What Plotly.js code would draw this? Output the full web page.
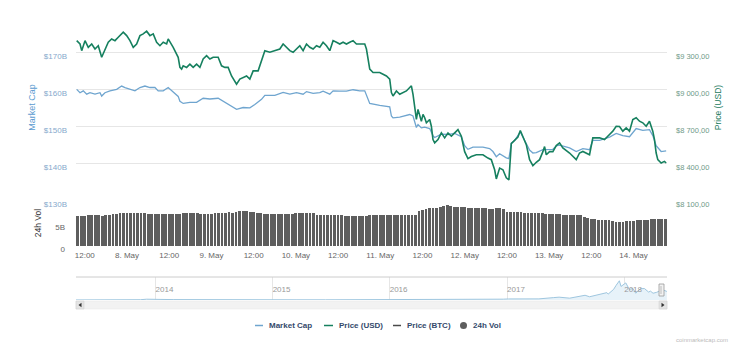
<!DOCTYPE html>
<html><head><meta charset="utf-8">
<script src="https://cdn.plot.ly/plotly-3.0.1.min.js"></script>
<style>html,body{margin:0;padding:0;background:#fff}#chart{width:750px;height:356px}</style>
</head><body><div id="chart"></div>
<script>
// ---- data ----
// hours after 2018-05-07 09:30 UTC
const priceHours = [
0.2,1.14,1.62,2.56,3.49,4.46,5.40,6.33,7.30,8.23,
9.17,10.14,11.08,12.01,13.43,14.40,15.34,16.27,17.24,18.18,
19.11,20.08,21.02,21.95,22.92,23.86,24.79,25.76,26.21,27.63,
28.60,29.05,29.54,30.02,30.47,31.44,32.38,33.31,34.28,35.22,
36.15,37.12,38.06,38.99,40.41,41.38,42.32,43.25,44.22,45.16,
45.64,46.58,47.51,48.48,49.42,50.36,51.77,52.74,53.68,55.10,
56.52,57.94,58.88,59.84,60.78,61.72,62.68,63.62,64.56,65.52,
66.46,67.40,68.36,69.30,70.24,71.20,72.14,73.08,74.04,74.98,
75.92,76.88,77.82,78.76,79.72,80.66,82.08,82.56,83.02,83.50,
84.44,85.40,86.34,87.28,88.24,89.18,89.66,90.12,91.08,92.02,
92.96,93.92,94.86,95.34,95.80,96.28,96.76,97.22,97.70,98.18,
98.64,99.12,99.60,100.54,101.02,101.48,101.96,102.90,103.86,104.80,
105.74,106.70,107.64,108.58,109.54,110.48,111.42,112.38,113.80,115.68,
117.10,118.06,119.00,119.48,120.42,121.36,122.32,123.06,123.74,124.68,
125.62,126.30,127.04,128.00,128.94,129.88,130.84,131.78,132.72,133.20,
133.68,134.62,135.56,136.52,137.46,138.40,140.30,142.20,143.14,144.08,
145.98,146.92,148.82,150.24,151.66,152.60,153.56,154.50,155.44,156.40,
157.34,158.28,159.24,160.18,161.12,162.08,163.02,163.96,164.44,164.92,
165.38,166.34,167.28,167.76];
const priceUsd = [
9392,9365,9311,9392,9338,9365,9324,9351,9257,9324,
9379,9406,9392,9420,9461,9433,9392,9338,9365,9433,
9447,9469,9433,9447,9379,9351,9379,9365,9406,9338,
9284,9257,9175,9161,9188,9175,9202,9175,9202,9175,
9243,9270,9243,9257,9257,9188,9175,9175,9106,9053,
9039,9080,9093,9106,9080,9147,9147,9229,9311,9298,
9311,9324,9365,9338,9311,9298,9324,9351,9311,9365,
9338,9324,9351,9338,9379,9351,9311,9392,9379,9365,
9379,9365,9379,9392,9365,9365,9365,9324,9243,9161,
9134,9134,9134,9120,9106,9080,8971,8943,8984,8957,
8971,8984,9012,9025,8957,8835,8753,8835,8794,8739,
8794,8767,8726,8753,8698,8590,8563,8590,8644,8604,
8644,8617,8644,8671,8617,8492,8435,8453,8467,8467,
8440,8427,8345,8271,8359,8345,8280,8263,8557,8582,
8610,8663,8617,8549,8427,8378,8406,8427,8492,8533,
8467,8492,8492,8541,8563,8522,8481,8427,8481,8494,
8467,8604,8604,8590,8631,8658,8698,8696,8658,8685,
8658,8753,8767,8739,8726,8698,8739,8658,8590,8481,
8427,8400,8413,8400];

const mcapHours = [
0.2,1.14,2.07,3.04,3.98,5.40,6.82,7.30,8.23,9.66,
11.56,12.98,13.92,15.34,16.76,18.18,19.60,21.02,22.44,23.37,
24.79,26.21,27.63,29.05,29.54,30.47,32.38,34.28,36.15,38.06,
40.41,42.32,44.22,45.64,47.51,49.42,50.84,52.74,53.68,56.52,
58.88,60.78,62.68,64.56,65.52,67.40,69.30,70.24,72.14,73.08,
74.98,76.88,78.76,80.66,82.08,83.02,83.50,86.34,89.18,89.66,
90.12,92.02,94.86,95.80,96.28,96.76,97.22,98.18,99.12,100.54,
101.48,101.96,103.86,105.74,107.64,109.54,110.48,111.42,112.84,115.68,
117.58,118.52,119.48,120.42,122.32,123.06,123.74,124.68,126.30,128.00,
128.94,129.88,130.84,132.72,133.68,135.56,136.52,137.46,140.30,142.20,
144.08,145.98,146.92,148.82,151.66,153.56,155.44,157.34,159.24,161.12,
163.02,163.96,164.92,166.34,167.76];
const mcapB = [
159.9,159.0,159.5,158.6,159.0,158.6,159.0,158.1,159.0,159.5,
159.9,160.8,160.4,159.9,159.5,160.4,160.8,160.4,160.4,159.5,
159.5,160.4,159.1,158.0,156.7,156.1,156.4,156.4,157.5,157.3,
157.5,156.4,155.3,154.5,155.0,154.9,155.8,157.2,158.3,158.3,
159.1,158.6,159.0,158.6,159.3,158.8,159.0,159.4,158.6,159.5,
159.4,159.4,159.8,159.5,159.5,157.5,156.1,155.6,155.2,152.7,
152.2,152.4,153.1,152.7,151.0,149.6,150.4,149.5,149.7,149.3,
147.4,146.9,147.8,147.7,148.0,147.1,144.7,143.7,144.3,144.3,
143.9,143.1,141.7,142.5,141.4,141.2,145.4,146.1,148.4,145.5,
143.5,142.7,142.8,143.6,143.6,143.7,144.6,144.8,144.1,143.1,
143.9,143.6,146.1,146.1,147.0,148.0,147.4,147.1,149.3,148.8,
149.0,147.4,144.7,143.1,143.3];

// hourly 24h volume, billions USD (hour 0..167)
const volumeB = [
6.8,6.8,6.8,7.0,7.0,7.1,7.0,6.7,6.9,7.1,
7.2,7.3,7.4,7.4,7.5,7.5,7.5,7.4,7.4,7.4,
7.3,7.3,7.2,7.3,7.3,7.2,7.3,7.3,7.3,7.3,
7.4,7.4,7.5,7.4,7.4,7.3,7.3,7.3,7.3,7.4,
7.4,7.5,7.5,7.6,7.5,7.6,8.0,8.0,7.9,7.7,
7.6,7.5,7.4,7.3,7.3,7.3,7.3,7.2,7.3,7.3,
7.3,7.3,7.4,7.4,7.5,7.5,7.5,7.4,7.1,7.1,
7.0,7.0,7.0,7.0,7.0,6.9,6.8,6.8,6.7,6.7,
6.8,6.8,6.8,6.9,7.0,7.0,7.1,7.0,7.0,7.0,
7.0,7.0,7.0,7.0,7.0,7.1,7.1,7.9,8.2,8.4,
8.5,8.6,8.6,8.8,9.1,9.2,9.1,8.9,8.8,8.8,
8.8,8.7,8.7,8.6,8.6,8.5,8.5,8.4,8.4,8.5,
8.6,8.3,7.6,7.7,7.7,7.6,7.6,7.5,7.5,7.5,
7.4,7.4,7.4,7.3,7.3,7.2,7.2,7.2,7.1,7.1,
7.1,7.0,7.0,6.9,6.6,6.3,6.0,6.0,5.9,5.9,
5.9,5.8,5.6,5.5,5.5,5.5,5.6,5.7,5.7,5.8,
5.8,5.9,5.9,6.0,6.0,6.1,6.1,6.2];

// navigator: full-history market cap, billions USD
const navDates = ['2013-04-28','2013-06-15','2013-08-15','2013-10-15','2013-11-15','2013-12-04','2013-12-20',
'2014-01-15','2014-02-25','2014-04-10','2014-06-05','2014-08-15','2014-10-15','2014-12-15',
'2015-01-14','2015-03-15','2015-06-15','2015-09-15','2015-11-04','2015-12-20',
'2016-02-15','2016-04-15','2016-06-17','2016-08-15','2016-10-15','2016-12-20',
'2017-01-05','2017-02-10','2017-03-03','2017-04-10','2017-05-25','2017-06-12','2017-07-15','2017-08-15','2017-09-01',
'2017-09-15','2017-10-01','2017-10-20','2017-11-08','2017-11-12','2017-11-29','2017-12-07','2017-12-17','2017-12-22',
'2018-01-06','2018-01-17','2018-01-28','2018-02-06','2018-02-20','2018-03-05','2018-03-18','2018-03-24','2018-04-01',
'2018-04-12','2018-04-24','2018-05-05','2018-05-10','2018-05-14'];
const navValues = [1.5,1.2,1.3,2.2,5,13.5,8,
10,7,5.5,8,7,5,4.5,
2.5,3.5,3.5,3.5,6.5,6.5,
6,6.5,12,9.5,10,14,
18,16,20,19,40,48,31,70,80,
55,73,100,125,100,180,250,326,230,
290,180,195,115,190,195,135,150,115,
130,160,165,155,145];

const xTickVals = ['2018-05-07 12:00','2018-05-08 00:00','2018-05-08 12:00','2018-05-09 00:00','2018-05-09 12:00',
'2018-05-10 00:00','2018-05-10 12:00','2018-05-11 00:00','2018-05-11 12:00','2018-05-12 00:00',
'2018-05-12 12:00','2018-05-13 00:00','2018-05-13 12:00','2018-05-14 00:00'];
const xTickText = ['12:00','8. May','12:00','9. May','12:00','10. May','12:00','11. May','12:00','12. May','12:00','13. May','12:00','14. May'];
const mcapTickVals = [130,140,150,160,170,180];
const mcapTickText = ['$130B','$140B','$150B','$160B','$170B',''];
const priceTickVals = [8100,8400,8700,9000,9300];
const priceTickText = ['$8 100,00','$8 400,00','$8 700,00','$9 000,00','$9 300,00'];
const volTickVals = [0,5];
const volTickText = ['0','5B'];
const navTickVals = ['2014-01-01','2015-01-01','2016-01-01','2017-01-01','2018-01-01'];
const navTickText = ['2014','2015','2016','2017','2018'];
const seriesNames = ['Market Cap','Price (USD)','Price (BTC)','24h Vol'];

// ---- styling ----
const mcapColor = '#6fa5cf', priceColor = '#16805f', btcColor = '#4a4a4a', volColor = '#5e5e5e';
const START = Date.UTC(2018,4,7,9,30);
const HOUR = 3600000;
function iso(ms){const d=new Date(ms);const p=n=>String(n).padStart(2,'0');
  return d.getUTCFullYear()+'-'+p(d.getUTCMonth()+1)+'-'+p(d.getUTCDate())+' '+p(d.getUTCHours())+':'+p(d.getUTCMinutes())+':'+p(d.getUTCSeconds());}
const hToDate = h => iso(START + h*HOUR);

const L=76, R=667, PW=R-L, H=356;
const px = v => (v-L)/PW;
const py = v => (H-v)/H;

const traces = [
  {type:'scatter', mode:'lines', name:seriesNames[0], x:mcapHours.map(hToDate), y:mcapB,
   xaxis:'x', yaxis:'y', line:{color:mcapColor, width:1.3}, hoverinfo:'skip'},
  {type:'scatter', mode:'lines', name:seriesNames[1], x:priceHours.map(hToDate), y:priceUsd,
   xaxis:'x', yaxis:'y2', line:{color:priceColor, width:1.6}, hoverinfo:'skip'},
  {type:'bar', name:seriesNames[3], x:volumeB.map((v,i)=>hToDate(i+0.5)), y:volumeB,
   width:volumeB.map(()=>HOUR*0.8), xaxis:'x', yaxis:'y3', marker:{color:volColor, line:{width:0}}, hoverinfo:'skip'},
  {type:'scatter', mode:'lines', name:'navigator', x:navDates, y:navValues, xaxis:'x2', yaxis:'y4',
   fill:'tozeroy', fillcolor:'#e7f2f9', line:{color:'#9ec6df', width:1}, hoverinfo:'skip'}
];

const FONT = 'Liberation Sans, Arial, sans-serif';
const shapes = [
  {type:'line', xref:'paper', yref:'paper', x0:0, x1:1, y0:py(277), y1:py(277), line:{color:'#cccccc', width:1}},
  {type:'rect', xref:'paper', yref:'paper', x0:px(76), x1:px(667), y0:py(309), y1:py(301), fillcolor:'#f2f2f2', line:{color:'#e6e6e6', width:0.5}},
  {type:'rect', xref:'paper', yref:'paper', x0:px(76), x1:px(84), y0:py(309), y1:py(301), fillcolor:'#e4e4e4', line:{color:'#cccccc', width:0.5}},
  {type:'rect', xref:'paper', yref:'paper', x0:px(659), x1:px(667), y0:py(309), y1:py(301), fillcolor:'#e4e4e4', line:{color:'#cccccc', width:0.5}},
  {type:'path', xref:'paper', yref:'paper', path:`M ${px(81.5)} ${py(302.8)} L ${px(81.5)} ${py(307.2)} L ${px(78.5)} ${py(305)} Z`, fillcolor:'#333', line:{width:0}},
  {type:'path', xref:'paper', yref:'paper', path:`M ${px(661.5)} ${py(302.8)} L ${px(661.5)} ${py(307.2)} L ${px(664.5)} ${py(305)} Z`, fillcolor:'#333', line:{width:0}},
  {type:'rect', xref:'paper', yref:'paper', x0:px(659), x1:px(664), y0:py(296), y1:py(284), fillcolor:'#f2f2f2', line:{color:'#999999', width:0.8}},
  {type:'line', xref:'paper', yref:'paper', x0:px(661), x1:px(661), y0:py(294), y1:py(286), line:{color:'#999999', width:0.6}},
];
const annotations = [
  {xref:'paper', yref:'paper', x:px(702), y:py(340), text:'coinmarketcap.com', showarrow:false,
   font:{family:FONT, size:6, color:'#bbbbbb'}, xanchor:'center', yanchor:'middle'}
];
// custom legend
const legY = 325.5;
const legItems = [
  {sx:255, ex:263, tx:267, color:mcapColor, kind:'line'},
  {sx:324, ex:333, tx:337, color:priceColor, kind:'line'},
  {sx:393, ex:401, tx:405, color:btcColor, kind:'line'},
  {sx:460, ex:467, tx:471, color:volColor, kind:'dot'}
];
legItems.forEach((it,i)=>{
  if(it.kind==='line'){
    shapes.push({type:'line', xref:'paper', yref:'paper', x0:px(it.sx), x1:px(it.ex), y0:py(legY), y1:py(legY), line:{color:it.color, width:1.5}});
  } else {
    shapes.push({type:'circle', xref:'paper', yref:'paper', x0:px(it.sx), x1:px(it.ex), y0:py(legY+3.5), y1:py(legY-3.5), fillcolor:it.color, line:{width:0}});
  }
  annotations.push({xref:'paper', yref:'paper', x:px(it.tx), y:py(legY), text:'<b>'+seriesNames[i]+'</b>', showarrow:false,
    xanchor:'left', yanchor:'middle', font:{family:FONT, size:8, color:'#34496b'}});
});

const layout = {
  width:750, height:356, margin:{l:L, r:750-R, t:0, b:0, pad:0},
  paper_bgcolor:'#ffffff', plot_bgcolor:'#ffffff', showlegend:false,
  font:{family:FONT, size:8, color:'#666666'},
  bargap:0,
  xaxis:{type:'date', domain:[0,1], anchor:'y3', range:[hToDate(0), hToDate(168)],
    tickmode:'array', tickvals:xTickVals, ticktext:xTickText, tickfont:{size:8, color:'#666666'},
    showgrid:false, zeroline:false, showline:false, ticks:'', ticklabelstandoff:3},
  yaxis:{domain:[py(200), py(15)], anchor:'x', range:[130,180], tickmode:'array', tickvals:mcapTickVals, ticktext:mcapTickText,
    showgrid:true, gridcolor:'#e6e6e6', gridwidth:1, zeroline:false, showline:false, ticks:'',
    tickfont:{size:8, color:'#86a9cc'}, ticklabelshift:4, ticklabelstandoff:8,
    title:{text:'Market Cap', font:{size:9, color:'#5b9bd0'}, standoff:6}},
  yaxis2:{overlaying:'y', side:'right', anchor:'x', range:[8100,9600], tickmode:'array', tickvals:priceTickVals, ticktext:priceTickText,
    showgrid:false, zeroline:false, showline:false, ticks:'',
    tickfont:{size:7.5, color:'#6f9a88'}, ticklabelshift:4, ticklabelstandoff:8,
    title:{text:'Price (USD)', font:{size:8.5, color:'#1a7a5d'}, standoff:6}},
  yaxis3:{domain:[py(246), py(200)], anchor:'x', range:[0,10.4], tickmode:'array', tickvals:volTickVals, ticktext:volTickText,
    showgrid:false, zeroline:false, showline:false, ticks:'',
    tickfont:{size:8, color:'#666666'}, ticklabelshift:3, ticklabelstandoff:10,
    title:{text:'24h Vol', font:{size:8.5, color:'#333333'}, standoff:12}},
  xaxis2:{type:'date', domain:[0,1], anchor:'y4', range:['2013-04-28','2018-05-14 10:00'],
    tickmode:'array', tickvals:navTickVals, ticktext:navTickText, ticklabelposition:'inside right',
    tickfont:{size:8, color:'#999999'}, showgrid:true, gridcolor:'#e6e6e6', zeroline:false, showline:false, ticks:''},
  yaxis4:{domain:[py(300), py(277)], anchor:'x2', range:[0,390], visible:false, showgrid:false, zeroline:false},
  shapes:shapes, annotations:annotations
};

Plotly.newPlot('chart', traces, layout, {staticPlot:true, displayModeBar:false});
</script></body></html>
